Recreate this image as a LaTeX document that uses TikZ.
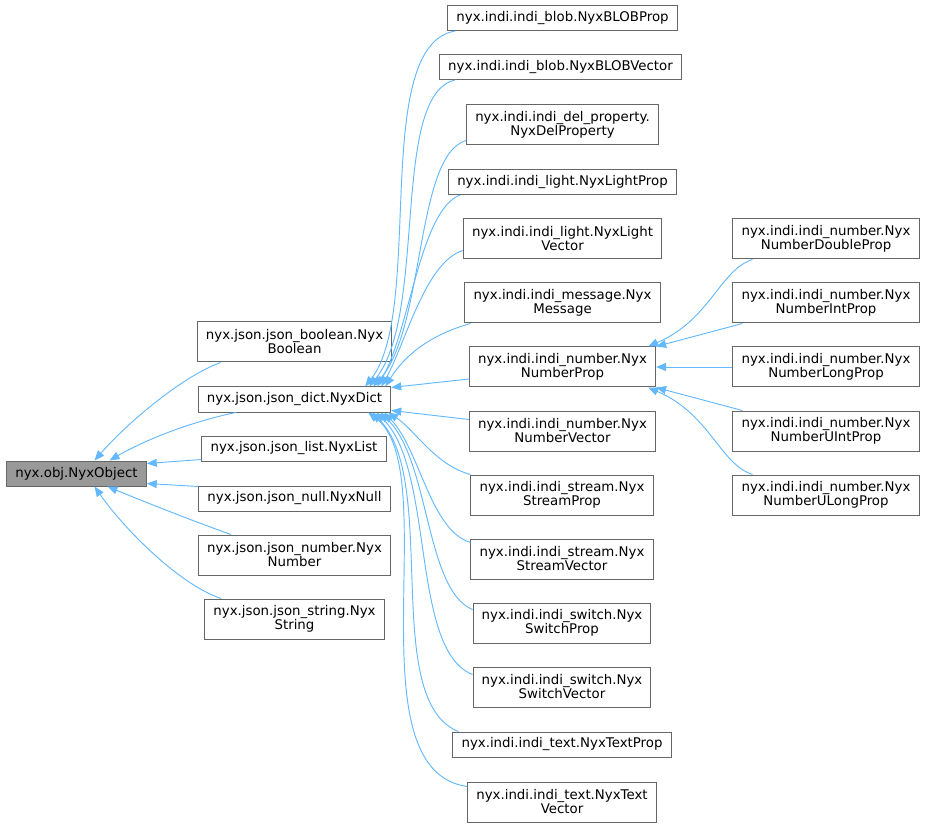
\documentclass[tikz,border=0pt]{standalone}
\usepackage{fontspec}
\setmainfont{DejaVu Sans}
\usetikzlibrary{arrows.meta,calc}
\definecolor{edgeblue}{HTML}{63B8FF}
\definecolor{boxline}{HTML}{666666}
\definecolor{basefill}{HTML}{999999}

\begin{document}
\begin{tikzpicture}[x=0.75pt, y=-0.75pt,
	cls/.style={draw=boxline, fill=white, line width=0.75pt, inner xsep=6.5pt,
				inner ysep=2pt, minimum height=18.75pt, align=center,
				font=\fontsize{10}{10.5}\selectfont},
	two/.style={cls, minimum height=30pt},
	base/.style={cls, fill=basefill},
	inh/.style={draw=edgeblue, line width=0.7pt,
				-{Triangle[length=7.5pt, width=6pt]}}]
	\useasboundingbox (0,0) rectangle (925,827);

	% base class
	\node[base] (obj) at (76.5,473.5) {nyx.obj.NyxObject};

	% json classes
	\node[two] (boolean) at (294.5,342) {nyx.json.json\_boolean.Nyx\\Boolean};
	\node[cls] (dict) at (294.5,399.5) {nyx.json.json\_dict.NyxDict};
	\node[cls] (list) at (294,448.5) {nyx.json.json\_list.NyxList};
	\node[cls] (null) at (294.5,498.5) {nyx.json.json\_null.NyxNull};
	\node[two] (number) at (294.5,555) {nyx.json.json\_number.Nyx\\Number};
	\node[two] (string) at (294.5,619) {nyx.json.json\_string.Nyx\\String};

	% indi classes
	\node[cls] (blobprop) at (562.5,18) {nyx.indi.indi\_blob.NyxBLOBProp};
	\node[cls] (blobvector) at (560.5,67) {nyx.indi.indi\_blob.NyxBLOBVector};
	\node[two] (delprop) at (562.5,125) {nyx.indi.indi\_del\_property.\\NyxDelProperty};
	\node[cls] (lightprop) at (562.5,182) {nyx.indi.indi\_light.NyxLightProp};
	\node[two] (lightvector) at (562.5,239) {nyx.indi.indi\_light.NyxLight\\Vector};
	\node[two] (message) at (562.5,303) {nyx.indi.indi\_message.Nyx\\Message};
	\node[two] (numberprop) at (562.5,367) {nyx.indi.indi\_number.Nyx\\NumberProp};
	\node[two] (numbervector) at (562.5,431) {nyx.indi.indi\_number.Nyx\\NumberVector};
	\node[two] (streamprop) at (562,495) {nyx.indi.indi\_stream.Nyx\\StreamProp};
	\node[two] (streamvector) at (562,559) {nyx.indi.indi\_stream.Nyx\\StreamVector};
	\node[two] (switchprop) at (562,623) {nyx.indi.indi\_switch.Nyx\\SwitchProp};
	\node[two] (switchvector) at (562,687) {nyx.indi.indi\_switch.Nyx\\SwitchVector};
	\node[cls] (textprop) at (562,744.5) {nyx.indi.indi\_text.NyxTextProp};
	\node[two] (textvector) at (562,802) {nyx.indi.indi\_text.NyxText\\Vector};

	% number props
	\node[two] (doubleprop) at (826,239) {nyx.indi.indi\_number.Nyx\\NumberDoubleProp};
	\node[two] (intprop) at (826,303) {nyx.indi.indi\_number.Nyx\\NumberIntProp};
	\node[two] (longprop) at (826,367) {nyx.indi.indi\_number.Nyx\\NumberLongProp};
	\node[two] (uintprop) at (826,431) {nyx.indi.indi\_number.Nyx\\NumberUIntProp};
	\node[two] (ulongprop) at (826,495) {nyx.indi.indi\_number.Nyx\\NumberULongProp};

	% inheritance to NyxObject
	\draw[inh] ($(boolean.south west)+(24,0)$) .. controls (185,375) and (130,420) .. ($(obj.north)+(18,0)$);
	\draw[inh] ($(dict.south west)+(38,0)$) .. controls (190,422) and (145,440) .. ($(obj.north)+(33,0)$);
	\draw[inh] ($(list.south west)+(0,-2)$) -- ($(obj.north east)+(0,3)$);
	\draw[inh] ($(null.north west)+(0,1)$) -- ($(obj.south east)+(0,-3)$);
	\draw[inh] ($(number.north west)+(33,0)$) .. controls (190,520) and (140,500) .. ($(obj.south)+(31,0)$);
	\draw[inh] ($(string.north west)+(17,0)$) .. controls (180,585) and (125,530) .. ($(obj.south)+(18,0)$);

	% inheritance to NyxDict
	\draw[inh] ($(blobprop.south west)+(8,0)$) .. controls (370,45) and (425,310) .. ($(dict.north east)+(-26,0)$);
	\draw[inh] ($(blobvector.south west)+(16,0)$) .. controls (390,95) and (428,315) .. ($(dict.north east)+(-22,0)$);
	\draw[inh] ($(delprop.south west)+(0,-5)$) .. controls (415,155) and (425,330) .. ($(dict.north east)+(-18,0)$);
	\draw[inh] ($(lightprop.south west)+(12,0)$) .. controls (420,210) and (410,330) .. ($(dict.north east)+(-14,0)$);
	\draw[inh] ($(lightvector.south west)+(0,-9)$) .. controls (425,262) and (405,345) .. ($(dict.north east)+(-10,0)$);
	\draw[inh] ($(message.south west)+(6,0)$) .. controls (430,335) and (405,355) .. ($(dict.north east)+(-6,0)$);
	\draw[inh] ($(numberprop.west)+(0,12)$) -- ($(dict.north east)+(0,1)$);
	\draw[inh] ($(numbervector.north west)+(0,9)$) -- ($(dict.south east)+(0,-2)$);
	\draw[inh] (streamprop.north west) .. controls (435,465) and (415,430) .. ($(dict.south east)+(-3,0)$);
	\draw[inh] ($(streamvector.north west)+(0,4)$) .. controls (430,530) and (420,450) .. ($(dict.south east)+(-7,0)$);
	\draw[inh] ($(switchprop.north west)+(0,7)$) .. controls (425,590) and (430,460) .. ($(dict.south east)+(-11,0)$);
	\draw[inh] ($(switchvector.north west)+(0,8)$) .. controls (410,650) and (435,470) .. ($(dict.south east)+(-15,0)$);
	\draw[inh] ($(textprop.north west)+(6,0)$) .. controls (380,700) and (440,480) .. ($(dict.south east)+(-19,0)$);
	\draw[inh] ($(textvector.north west)+(0,5)$) .. controls (350,770) and (445,470) .. ($(dict.south east)+(-23,0)$);

	% inheritance to NyxNumberProp
	\draw[inh] ($(doubleprop.south west)+(20,0)$) .. controls (720,270) and (710,320) .. ($(numberprop.north east)+(-8,0)$);
	\draw[inh] ($(intprop.south west)+(10,0)$) -- (numberprop.north east);
	\draw[inh] (longprop.west) -- (numberprop.east);
	\draw[inh] ($(uintprop.north west)+(10,0)$) -- (numberprop.south east);
	\draw[inh] ($(ulongprop.north west)+(20,0)$) .. controls (720,464) and (710,414) .. ($(numberprop.south east)+(-8,0)$);
\end{tikzpicture}
\end{document}
